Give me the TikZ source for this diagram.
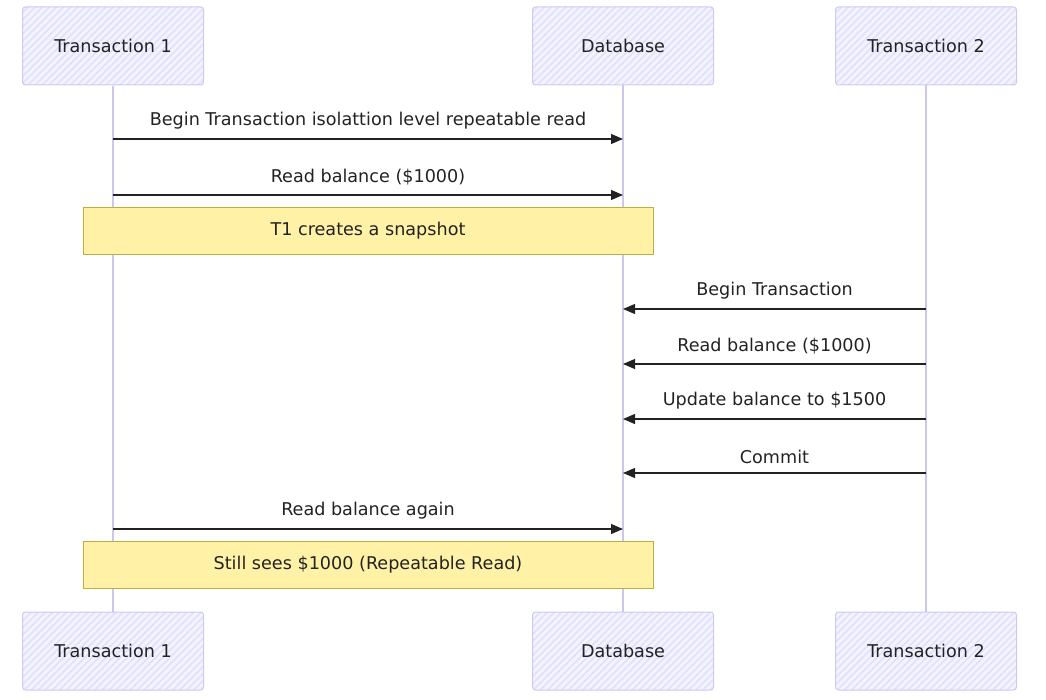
\documentclass[tikz,border=0pt]{standalone}
\usepackage{fontspec}
\setmainfont{DejaVu Sans}
\usepackage{xcolor}
\usetikzlibrary{arrows.meta,positioning,patterns.meta}
\definecolor{ink}{HTML}{222222}
\definecolor{actorfill}{HTML}{F3F3FF}
\definecolor{actorhatch}{HTML}{E0E0FA}
\definecolor{actorline}{HTML}{CFC8F0}
\definecolor{lifecol}{HTML}{CFC6F0}
\definecolor{notefill}{HTML}{FFF2A6}
\definecolor{noteline}{HTML}{B8B040}
\newcommand\seqfont{\fontsize{17.6}{21}\selectfont}
\tikzset{
  actor/.style={draw=actorline,line width=1pt,rounded corners=3pt,
                preaction={fill=actorfill},
                pattern={Lines[angle=45,distance=5pt,line width=1.6pt]},
                pattern color=actorhatch,
                minimum width=181pt,minimum height=78pt,
                font=\seqfont,text=ink},
  lifeline/.style={draw=lifecol,line width=1.8pt},
  msg/.style={-{Triangle[length=12pt,width=10pt]},line width=1.1pt,draw=ink},
  msglabel/.style={above=9pt,inner sep=0pt,font=\seqfont,text=ink},
  notebox/.style={draw=noteline,fill=notefill,line width=0.9pt,
                  minimum width=570pt,minimum height=47pt,
                  font=\seqfont,text=ink}
}
\begin{document}
\begin{tikzpicture}[x=1pt,y=-1pt]
    \path[use as bounding box] (0,0) rectangle (1046,700);
    % participants
    \node[actor] (t1top) at (113,46) {Transaction 1};
    \node[actor] (dbtop) at (623,46) {Database};
    \node[actor] (t2top) at (926,46) {Transaction 2};
    \node[actor] (t1bot) at (113,651) {Transaction 1};
    \node[actor] (dbbot) at (623,651) {Database};
    \node[actor] (t2bot) at (926,651) {Transaction 2};
    \draw[lifeline] (t1top) -- (t1bot);
    \draw[lifeline] (dbtop) -- (dbbot);
    \draw[lifeline] (t2top) -- (t2bot);
    % messages
    \coordinate (t1a) at (113,139);
    \coordinate (dba) at (623,139);
    \draw[msg] (t1a) -- node[msglabel]
      {Begin Transaction isolattion level repeatable read} (dba);
    \coordinate (t1b) at (113,195);
    \coordinate (dbb) at (623,195);
    \draw[msg] (t1b) -- node[msglabel] {Read balance (\$1000)} (dbb);
    \node[notebox] (snap) at (368,230.5) {T1 creates a snapshot};
    \coordinate (t2c) at (926,309);
    \coordinate (dbc) at (623,309);
    \draw[msg] (t2c) -- node[msglabel] {Begin Transaction} (dbc);
    \coordinate (t2d) at (926,364);
    \coordinate (dbd) at (623,364);
    \draw[msg] (t2d) -- node[msglabel] {Read balance (\$1000)} (dbd);
    \coordinate (t2e) at (926,419);
    \coordinate (dbe) at (623,419);
    \draw[msg] (t2e) -- node[msglabel] {Update balance to \$1500} (dbe);
    \coordinate (t2f) at (926,473);
    \coordinate (dbf) at (623,473);
    \draw[msg] (t2f) -- node[msglabel] {Commit} (dbf);
    \coordinate (t1g) at (113,529);
    \coordinate (dbg) at (623,529);
    \draw[msg] (t1g) -- node[msglabel] {Read balance again} (dbg);
    \node[notebox] (still) at (368,564.5) {Still sees \$1000 (Repeatable Read)};
  \end{tikzpicture}
\end{document}
